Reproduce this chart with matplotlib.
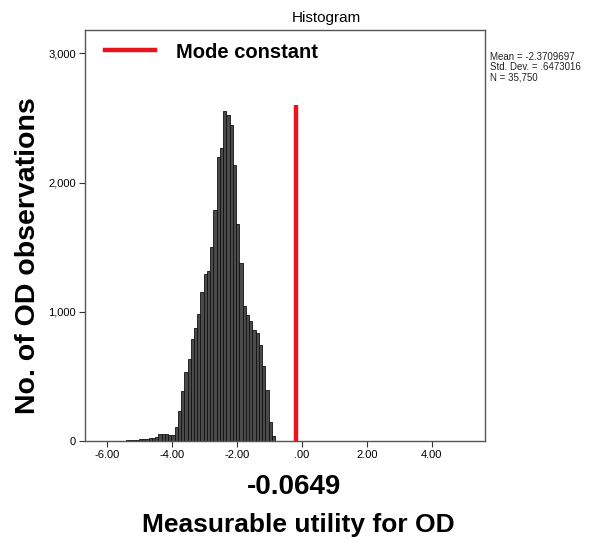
import matplotlib
matplotlib.use("Agg")
import matplotlib.pyplot as plt
import numpy as np

plt.rcParams['font.family'] = ['Liberation Sans', 'DejaVu Sans']

# histogram bins (width 0.1) and counts
bin_start = -5.63
bin_width = 0.1
counts = [2, 3, 4, 5, 7, 9, 12, 14, 17, 21, 25, 30, 52, 55, 55, 50,
          48, 111, 235, 388, 537, 632, 786, 871, 983, 1152, 1291, 1317, 1498, 1791,
          2201, 2268, 2555, 2525, 2445, 2137,
          1683, 1376, 1042, 973, 932, 863, 837, 740, 583, 394, 145, 42]

mode_x = -0.2          # where the red line is drawn
mode_top = 2600
mode_label = "-0.0649"

xticks = [-6, -4, -2, 0, 2, 4]
xtick_labels = ["-6.00", "-4.00", "-2.00", ".00", "2.00", "4.00"]
yticks = [0, 1000, 2000, 3000]
ytick_labels = ["0", "1,000", "2,000", "3,000"]

stats = ["Mean = -2.3709697", "Std. Dev. = .6473016", "N = 35,750"]

edges = bin_start + bin_width * np.arange(len(counts) + 1)

fig = plt.figure(figsize=(5.96, 5.42), dpi=100)
ax = fig.add_axes([85 / 596, 101 / 542, 400 / 596, 411.5 / 542])

ax.hist(edges[:-1], bins=edges, weights=counts, color='#4a4a4a',
        edgecolor='#111111', linewidth=0.6)
ax.plot([mode_x, mode_x], [0, mode_top], color='#e8141b', linewidth=3.2,
        solid_capstyle='butt')

ax.set_xlim(-6.69, 5.64)
ax.set_ylim(0, 3185)
ax.set_xticks(xticks)
ax.set_xticklabels(xtick_labels)
ax.set_yticks(yticks)
ax.set_yticklabels(ytick_labels)
ax.tick_params(labelsize=8, length=4.5, width=0.8, color='#333333', pad=2)
for s in ax.spines.values():
    s.set_color('#555555')
    s.set_linewidth(1.0)

# legend drawn by hand
fig.add_artist(plt.Line2D([105 / 596, 155 / 596], [1 - 50 / 542, 1 - 50 / 542],
                          color='#e8141b', linewidth=3.2, transform=fig.transFigure))
fig.text(176 / 596, 1 - 52 / 542, "Mode constant", fontsize=14.5,
         fontweight='bold', va='center', ha='left')

fig.text(326 / 596, 1 - 18 / 542, "Histogram", fontsize=11, ha='center', va='center')

for k, line in enumerate(stats):
    fig.text(490 / 596, 1 - (57 + 10 * k) / 542, line, fontsize=7,
             ha='left', va='center', color='#222222')

fig.text(28 / 596, 1 - 256 / 542, "No. of OD observations", fontsize=20.5,
         fontweight='bold', rotation=90, ha='center', va='center')
fig.text(294 / 596, 1 - 487 / 542, mode_label, fontsize=20,
         fontweight='bold', ha='center', va='center')
fig.text(298 / 596, 1 - 525 / 542, "Measurable utility for OD", fontsize=19,
         fontweight='bold', ha='center', va='center')

fig.savefig("out.png", dpi=100)
